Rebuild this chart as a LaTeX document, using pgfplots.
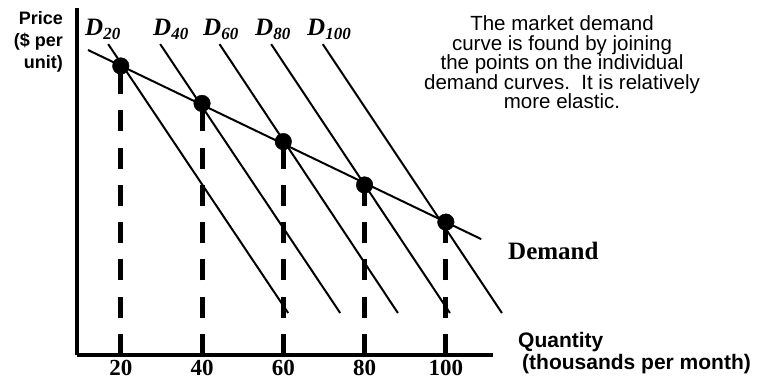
\documentclass[border=0pt]{standalone}
\usepackage{fontspec}
\setmainfont{Liberation Serif}
\newfontfamily\arial{Liberation Sans}
\usepackage{pgfplots}
\pgfplotsset{compat=1.18}
\newcommand{\Dlab}[1]{{\fontsize{25}{25}\selectfont\bfseries\itshape D}\raisebox{-4pt}{\fontsize{17}{17}\selectfont\bfseries\itshape #1}}
\begin{document}
\begin{tikzpicture}[x=1pt,y=1pt]
\useasboundingbox (0,0) rectangle (760,-381);
\begin{axis}[
  at={(77pt,-355pt)}, anchor=south west,
  width=416pt, height=347pt, scale only axis,
  xmin=9.23, xmax=111.6, ymin=0, ymax=100, clip=false,
  axis x line=bottom, axis y line=left,
  axis line style={-, line width=4.5pt},
  xtick={20,40,60,80,100}, ytick=\empty,
  major tick length=0pt,
  /pgf/number format/assume math mode=true,
  xticklabel style={font=\fontsize{23}{23}\selectfont\bfseries, anchor=base, inner sep=0pt, yshift=-20pt},
]
% dashed verticals
\addplot[line width=5pt, dash pattern=on 21pt off 16.3pt] coordinates {(20,0) (20,83.3)};
\addplot[line width=5pt, dash pattern=on 21pt off 16.3pt] coordinates {(40,0) (40,72.5)};
\addplot[line width=5pt, dash pattern=on 21pt off 16.3pt] coordinates {(60,0) (60,61.5)};
\addplot[line width=5pt, dash pattern=on 21pt off 16.3pt] coordinates {(80,0) (80,49.0)};
\addplot[line width=5pt, dash pattern=on 21pt off 16.3pt] coordinates {(100,0) (100,38.3)};
% individual demand curves
\addplot[line width=2pt] coordinates {(16.9,89.6) (61.2,12.1)};
\addplot[line width=2pt] coordinates {(29.7,89.6) (74.0,12.1)};
\addplot[line width=2pt] coordinates {(44.3,89.6) (88.2,12.1)};
\addplot[line width=2pt] coordinates {(57.0,89.6) (101.0,12.1)};
\addplot[line width=2pt] coordinates {(69.7,89.6) (113.8,12.1)};
% market demand
\addplot[line width=2pt] coordinates {(11.94,87.9) (108.7,33.4)};
% points
\addplot[only marks, mark=*, mark size=8.3pt, black] coordinates {(20,83.3) (40,72.5) (60,61.5) (80,49.0) (100,38.3)};
\end{axis}
% labels
\node[anchor=base west, inner sep=0] at (85,-35) {\Dlab{20}};
\node[anchor=base west, inner sep=0] at (153,-35) {\Dlab{40}};
\node[anchor=base west, inner sep=0] at (203,-35) {\Dlab{60}};
\node[anchor=base west, inner sep=0] at (255,-35) {\Dlab{80}};
\node[anchor=base west, inner sep=0] at (307,-35) {\Dlab{100}};
\node[anchor=north east, inner sep=0, align=right, font=\arial\bfseries\fontsize{18}{22}\selectfont] at (63,-11) {Price\\(\$ per\\unit)};
\node[anchor=north, inner sep=0, align=center, font=\arial\fontsize{20.5}{19.6}\selectfont] at (562,-15.5) {The market demand\\curve is found by joining\\the points on the individual\\demand curves.\ \ It is relatively\\more elastic.};
\node[anchor=base west, inner sep=0, font=\bfseries\fontsize{25}{25}\selectfont] at (508,-259) {Demand};
\node[anchor=base west, inner sep=0, font=\arial\bfseries\fontsize{21}{21}\selectfont] at (518,-347) {Quantity};
\node[anchor=base west, inner sep=0, font=\arial\bfseries\fontsize{21}{21}\selectfont] at (522,-369) {(thousands per month)};
\end{tikzpicture}
\end{document}
